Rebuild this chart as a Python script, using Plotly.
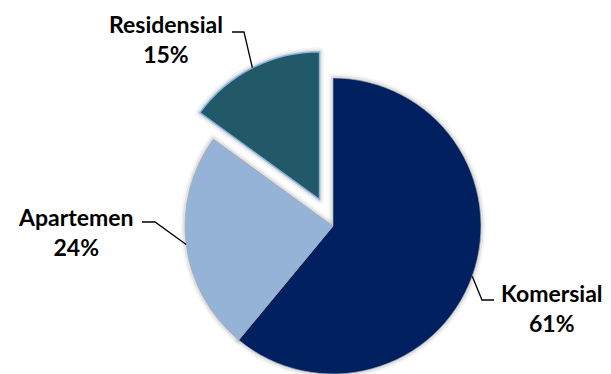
import math
import plotly.graph_objects as go

# ---- data ----
labels = ["Komersial", "Apartemen", "Residensial"]
values = [61, 24, 15]
percents = ["61%", "24%", "15%"]
colors = ["#002060", "#95B3D7", "#215968"]
pulled = [0, 0, 1]  # which slice is exploded

# ---- layout constants (pixels) ----
W, H = 611, 374
CX, CY, R = 333, 226, 148
PULL = 0.2
FONT = "Lato"

total = sum(values)
frac = [v / total for v in values]
starts = [sum(frac[:i]) for i in range(len(frac))]
mids = [(s + f / 2) * 360 for s, f in zip(starts, frac)]
CLEAR = "rgba(0,0,0,0)"


def dom(cx, cy, r):
    return dict(x=[(cx - r) / W, (cx + r) / W], y=[1 - min(cy + r, H) / H, 1 - (cy - r) / H])


def pie(fill, line_col, line_w, d):
    return go.Pie(
        labels=labels, values=values, sort=False, direction="clockwise", rotation=0,
        marker=dict(colors=fill, line=dict(color=line_col, width=line_w)),
        textinfo="none", hoverinfo="skip", showlegend=False, domain=d,
    )


# geometry of each slice's centre (pulled slices are shifted)
centers = []
for i, p in enumerate(pulled):
    a = math.radians(mids[i])
    centers.append((CX + PULL * R * math.sin(a) * p, CY - PULL * R * math.cos(a) * p))

fig = go.Figure()
# soft shadows
for (w, alpha) in [(9, 0.04), (5, 0.07)]:
    sh = f"rgba(0,0,0,{alpha})"
    fig.add_trace(pie([CLEAR] * 3, [sh if p == 0 else CLEAR for p in pulled], w, dom(CX, CY, R)))
    for i, p in enumerate(pulled):
        if p:
            lc = [CLEAR] * 3
            lc[i] = sh
            fig.add_trace(pie([CLEAR] * 3, lc, w, dom(*centers[i], R)))

# main pie (non-pulled slices)
main_cols = [c if p == 0 else CLEAR for c, p in zip(colors, pulled)]
main_line = ["rgba(170,170,170,0.7)" if p == 0 else CLEAR for p in pulled]
fig.add_trace(pie(main_cols, main_line, 1, dom(CX, CY, R)))
# pulled slices
for i, p in enumerate(pulled):
    if p:
        cols = [CLEAR] * 3
        cols[i] = colors[i]
        lc = [CLEAR] * 3
        lc[i] = "#8DB3E2"
        fig.add_trace(pie(cols, lc, 1.5, dom(*centers[i], R)))

# labels with leader lines
label_pos = {  # text centre (px) and elbow (px)
    "Komersial": dict(tx=552, ty=308, ex=482, ey=300, hx=494),
    "Apartemen": dict(tx=76, ty=232, ex=155, ey=222, hx=142),
    "Residensial": dict(tx=166, ty=39, ex=244, ey=32, hx=232),
}
for i, lab in enumerate(labels):
    lp = label_pos[lab]
    a = math.radians(mids[i])
    cx, cy = centers[i]
    px = cx + R * math.sin(a)
    py = cy - R * math.cos(a)
    fig.add_annotation(
        x=lp["tx"] / W, y=1 - lp["ty"] / H, xref="paper", yref="paper",
        xanchor="center", yanchor="middle",
        text=f"<b>{lab}</b><br><b>{percents[i]}</b>", showarrow=False,
        font=dict(family=FONT, size=23, color="black"), align="center",
    )
    path = f"M {px/W} {1-py/H} L {lp['ex']/W} {1-lp['ey']/H} L {lp['hx']/W} {1-lp['ey']/H}"
    fig.add_shape(type="path", path=path, xref="paper", yref="paper",
                  line=dict(color="black", width=1.3))

fig.update_layout(
    width=W, height=H, margin=dict(l=0, r=0, t=0, b=0),
    paper_bgcolor="white", plot_bgcolor="white",
)
fig.write_html("out.html")
